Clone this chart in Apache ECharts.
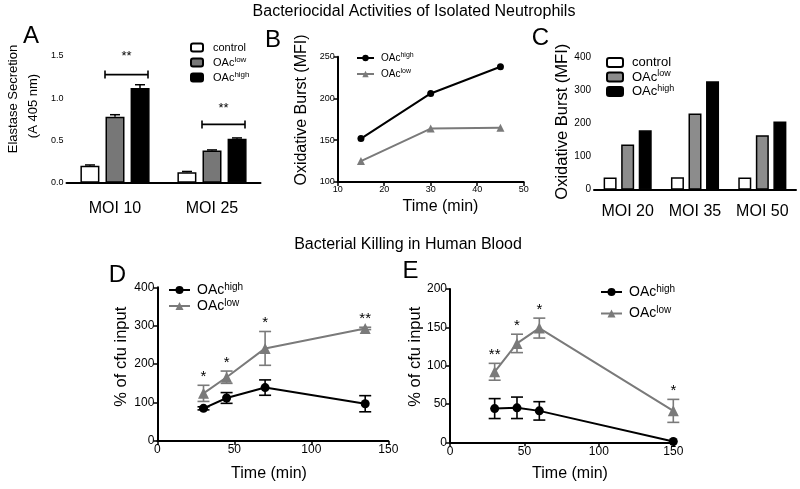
<!DOCTYPE html>
<html><head><meta charset="utf-8">
<script src="https://cdn.jsdelivr.net/npm/echarts@6/dist/echarts.min.js"></script>
<style>html,body{margin:0;padding:0;background:#fff}#c{width:800px;height:489px}</style>
</head><body><div id="c"></div>
<script>
// ---------- data ----------
const mainTitle = 'Bacteriocidal Activities of Isolated Neutrophils';
const subTitle = 'Bacterial Killing in Human Blood';

const aCategories = ['MOI 10', 'MOI 25'];
const aControl = [0.20, 0.125];
const aControlErr = [0.01, 0.008];
const aLow = [0.78, 0.38];
const aLowErr = [0.025, 0.008];
const aHigh = [1.12, 0.52];
const aHighErr = [0.04, 0.01];
const aSigLevel = [1.28, 0.69];
const aSigLabel = ['**', '**'];

const bTime = [15, 30, 45];
const bHigh = [152, 206, 238];
const bLow = [125, 164, 165];

const cCategories = ['MOI 20', 'MOI 35', 'MOI 50'];
const cControl = [37, 38, 37];
const cLow = [137, 231, 165];
const cHigh = [180, 329, 207];

const dTime = [30, 45, 70, 135];
const dHigh = [85, 112, 139, 97];
const dHighErr = [4, 14, 20, 21];
const dLow = [124, 166, 241, 293];
const dLowErr = [21, 16, 44, 3];
const dStars = ['*', '*', '*', '**'];

const eTime = [30, 45, 60, 150];
const eHigh = [44, 45, 41, 1];
const eHighErr = [13, 14, 12, 0];
const eLow = [92, 129, 149, 41];
const eLowErr = [11, 12, 13, 15];
const eStars = ['**', '*', '*', '*'];

const legendLabels = { control: 'control', low: 'OAc{sup|low}', high: 'OAc{sup|high}' };

// ---------- styles / helpers ----------
const FONT = '"Liberation Sans", Arial, Helvetica, sans-serif';
const GRAY_A = '#777777', GRAY_C = '#8c8c8c', GRAY_LINE = '#7a7a7a';

function axisBase(fs) {
  return {
    axisLine: { lineStyle: { color: '#000', width: 2 } },
    axisTick: { length: 4, lineStyle: { color: '#000', width: 1.5 } },
    axisLabel: { color: '#000', fontSize: fs, fontFamily: FONT, margin: 3 },
    splitLine: { show: false }
  };
}
function valAxis(gi, min, max, interval, fs, extra) {
  return Object.assign(axisBase(fs), { type: 'value', gridIndex: gi, min, max, interval }, extra || {});
}
function catAxis(gi, data, fs, margin) {
  const a = axisBase(fs);
  a.axisLabel.margin = margin;
  a.axisLabel.interval = 0;
  a.axisTick.alignWithLabel = true;
  return Object.assign(a, { type: 'category', gridIndex: gi, data });
}

function barErr(offset, cap) {
  return function (params, api) {
    const i = api.value(0), v = api.value(1), e = api.value(2);
    const p = api.coord([i, v]), t = api.coord([i, v + e]);
    const x = p[0] + offset;
    return { type: 'group', children: [
      { type: 'line', shape: { x1: x, y1: p[1], x2: x, y2: t[1] }, style: { stroke: '#000', lineWidth: 1.5 } },
      { type: 'line', shape: { x1: x - cap, y1: t[1], x2: x + cap, y2: t[1] }, style: { stroke: '#000', lineWidth: 1.5 } }
    ] };
  };
}
function lineErr(color, cap) {
  return function (params, api) {
    const x = api.value(0), v = api.value(1), e = api.value(2);
    if (!e) return null;
    const lo = api.coord([x, v - e]), hi = api.coord([x, v + e]);
    const st = { stroke: color, lineWidth: 1.6 };
    return { type: 'group', children: [
      { type: 'line', shape: { x1: lo[0], y1: lo[1], x2: hi[0], y2: hi[1] }, style: st },
      { type: 'line', shape: { x1: lo[0] - cap, y1: lo[1], x2: lo[0] + cap, y2: lo[1] }, style: st },
      { type: 'line', shape: { x1: hi[0] - cap, y1: hi[1], x2: hi[0] + cap, y2: hi[1] }, style: st }
    ] };
  };
}
function starRender(labels) {
  return function (params, api) {
    const p = api.coord([api.value(0), api.value(1)]);
    return { type: 'text', x: p[0], y: p[1] - 1,
      style: { text: labels[params.dataIndex], fill: '#000', font: '15px ' + FONT, align: 'center', verticalAlign: 'bottom' } };
  };
}
function bracketRender(params, api) {
  const p = api.coord([api.value(0), api.value(1)]);
  const x1 = p[0] - 10, x2 = p[0] + 33, y = p[1];
  const st = { stroke: '#000', lineWidth: 1.6 };
  const up = params.dataIndex === 0 ? 12 : 9;
  return { type: 'group', children: [
    { type: 'line', shape: { x1, y1: y, x2, y2: y }, style: st },
    { type: 'line', shape: { x1, y1: y - 4, x2: x1, y2: y + 4 }, style: st },
    { type: 'line', shape: { x1: x2, y1: y - 4, x2, y2: y + 4 }, style: st },
    { type: 'text', x: (x1 + x2) / 2, y: y - up, style: { text: aSigLabel[params.dataIndex], fill: '#000', font: '13px ' + FONT, align: 'center', verticalAlign: 'bottom' } }
  ] };
}
function bar(name, gi, data, color, width, gap) {
  return { name, type: 'bar', xAxisIndex: gi, yAxisIndex: gi, data, barWidth: width, barGap: gap,
    itemStyle: { color, borderColor: '#000', borderWidth: 1.5 } };
}
function line(name, gi, xs, ys, color, symbol, size) {
  return { name, type: 'line', xAxisIndex: gi, yAxisIndex: gi, data: xs.map((x, i) => [x, ys[i]]),
    symbol, symbolSize: size, lineStyle: { color, width: 2 }, itemStyle: { color }, z: 3 };
}
function custom(gi, data, renderItem) {
  return { type: 'custom', xAxisIndex: gi, yAxisIndex: gi, data, renderItem, clip: false, silent: true, z: 5 };
}
function legend(data, left, top, fs, supFs, iw, ih, gap, textPad) {
  return { data, left, top, orient: 'vertical', itemWidth: iw, itemHeight: ih, itemGap: gap, padding: 0,
    selectedMode: false,
    formatter: n => legendLabels[n.split('_')[1]],
    textStyle: { fontSize: fs, fontFamily: FONT, color: '#000', padding: [0, 0, 0, textPad],
      rich: { sup: { fontSize: supFs, fontFamily: FONT, color: '#000', verticalAlign: 'top', padding: [0, 0, Math.round(fs * 0.45), 0] } } } };
}
function txt(text, x, y, size, rot) {
  return { type: 'text', x, y, rotation: rot || 0,
    style: { text, font: size + 'px ' + FONT, fill: '#000', align: 'center', verticalAlign: 'middle' } };
}

const option = {
  animation: false,
  backgroundColor: '#fff',
  textStyle: { fontFamily: FONT },
  grid: [
    { left: 66.5, top: 56, width: 194, height: 126.7, outerBoundsMode: 'none' },
    { left: 337.7, top: 56.7, width: 186, height: 125.3, outerBoundsMode: 'none' },
    { left: 594, top: 57.7, width: 202, height: 132, outerBoundsMode: 'none' },
    { left: 157.3, top: 287.3, width: 231, height: 153.7, outerBoundsMode: 'none' },
    { left: 450, top: 289, width: 223.3, height: 153.3, outerBoundsMode: 'none' }
  ],
  xAxis: [
    catAxis(0, aCategories, 16, 18),
    valAxis(1, 10, 50, 10, 9),
    catAxis(2, cCategories, 16, 14),
    valAxis(3, 0, 150, 50, 12),
    valAxis(4, 0, 150, 50, 12)
  ],
  yAxis: [
    valAxis(0, 0, 1.5, 0.5, 9, { axisLabel: { color: '#000', fontSize: 9, fontFamily: FONT, margin: 3, formatter: v => v.toFixed(1) } }),
    valAxis(1, 100, 250, 50, 9),
    valAxis(2, 0, 400, 100, 10),
    valAxis(3, 0, 400, 100, 12),
    valAxis(4, 0, 200, 50, 12)
  ],
  legend: [
    legend(['A_control', 'A_low', 'A_high'], 190, 42, 11, 8, 12, 8, 3, 5),
    legend(['B_high', 'B_low'], 356, 52, 10, 7, 17, 8, 5, 2),
    legend(['C_control', 'C_low', 'C_high'], 606, 56, 13, 9, 16, 9, 0.5, 4),
    legend(['D_high', 'D_low'], 168, 282, 14, 10, 21, 10, 1, 2),
    legend(['E_high', 'E_low'], 600, 284, 14, 10, 21, 10, 6.5, 2)
  ],
  series: [
    // A
    bar('A_control', 0, aControl, '#fff', 19, '32%'),
    bar('A_low', 0, aLow, GRAY_A, 19, '32%'),
    bar('A_high', 0, aHigh, '#000', 19, '32%'),
    custom(0, aControl.map((v, i) => [i, v, aControlErr[i]]), barErr(-25, 5)),
    custom(0, aLow.map((v, i) => [i, v, aLowErr[i]]), barErr(0, 5)),
    custom(0, aHigh.map((v, i) => [i, v, aHighErr[i]]), barErr(25, 5)),
    custom(0, aSigLevel.map((v, i) => [i, v]), bracketRender),
    // B
    line('B_high', 1, bTime, bHigh, '#000', 'circle', 7),
    line('B_low', 1, bTime, bLow, GRAY_LINE, 'triangle', 8),
    // C
    bar('C_control', 2, cControl, '#fff', 13, '35%'),
    bar('C_low', 2, cLow, GRAY_C, 13, '35%'),
    bar('C_high', 2, cHigh, '#000', 13, '35%'),
    // D
    line('D_high', 3, dTime, dHigh, '#000', 'circle', 9),
    line('D_low', 3, dTime, dLow, GRAY_LINE, 'triangle', 11),
    custom(3, dTime.map((x, i) => [x, dHigh[i], dHighErr[i]]), lineErr('#000', 6)),
    custom(3, dTime.map((x, i) => [x, dLow[i], dLowErr[i]]), lineErr(GRAY_LINE, 6)),
    custom(3, dTime.map((x, i) => [x, dLow[i] + dLowErr[i]]), starRender(dStars)),
    // E
    line('E_high', 4, eTime, eHigh, '#000', 'circle', 9),
    line('E_low', 4, eTime, eLow, GRAY_LINE, 'triangle', 11),
    custom(4, eTime.map((x, i) => [x, eHigh[i], eHighErr[i]]), lineErr('#000', 6)),
    custom(4, eTime.map((x, i) => [x, eLow[i], eLowErr[i]]), lineErr(GRAY_LINE, 6)),
    custom(4, eTime.map((x, i) => [x, eLow[i] + eLowErr[i]]), starRender(eStars))
  ],
  graphic: [
    txt(mainTitle, 414, 12, 16),
    txt(subTitle, 408, 245, 16),
    txt('A', 31, 36, 24), txt('B', 273, 40, 24), txt('C', 540.5, 38, 24),
    txt('D', 117.5, 275.5, 24), txt('E', 410.5, 271.5, 24),
    txt('Elastase Secretion', 13, 99, 13, Math.PI / 2),
    txt('(A 405 nm)', 33, 106, 13, Math.PI / 2),
    txt('Oxidative Burst (MFI)', 301.7, 110, 16, Math.PI / 2),
    txt('Oxidative Burst (MFI)', 562.5, 121.7, 16.5, Math.PI / 2),
    txt('% of cfu input', 121.7, 356.7, 16.5, Math.PI / 2),
    txt('% of cfu input', 415, 356.7, 16.5, Math.PI / 2),
    txt('Time (min)', 440.5, 207, 16),
    txt('Time (min)', 269, 474, 16),
    txt('Time (min)', 570, 474, 16)
  ]
};
echarts.init(document.getElementById('c'), null, { renderer: 'canvas' }).setOption(option);
</script></body></html>
